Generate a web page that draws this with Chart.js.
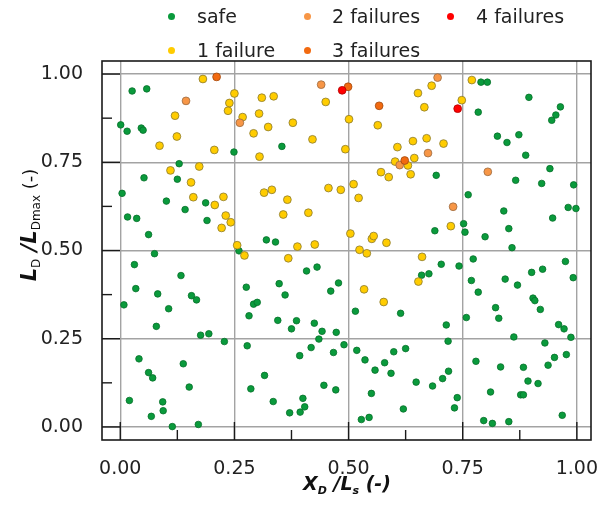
<!DOCTYPE html>
<html>
<head>
<meta charset="utf-8">
<script src="https://cdn.jsdelivr.net/npm/chart.js@4/dist/chart.umd.min.js"></script>
<style>
  body { margin: 0; background: #fff; }
  #wrap { position: relative; width: 599px; height: 510px; }
  #legend { position: absolute; left: 0; top: 0; width: 599px; height: 60px; font: 19px "DejaVu Sans", sans-serif; color: #222; }
  .dot { position: absolute; width: 7px; height: 7px; border-radius: 50%; }
  .lbl { position: absolute; line-height: 22px; white-space: nowrap; }
</style>
</head>
<body>
<div id="wrap">
  <canvas id="myChart" width="599" height="510"></canvas>
  <div id="legend"></div>
</div>
<script>
var seriesNames = ["safe", "1 failure", "2 failures", "3 failures", "4 failures"];
var seriesColors = ["#0a9a3c", "#ffcc00", "#f79646", "#f26a10", "#ff0000"];
var seriesBorders = ["#06702a", "#8a7a30", "#9a6a40", "#a04a10", "#b00000"];

var tickValues = [0, 0.25, 0.5, 0.75, 1];

// XD/Ls , LD/LDmax
var safePts = [
  [0.026,0.952],[0.058,0.958],[0.001,0.856],[0.015,0.838],[0.046,0.847],[0.050,0.841],[0.249,0.779],[0.129,0.746],[0.052,0.706],[0.125,0.702],
  [0.354,0.795],
  [0.790,0.977],[0.804,0.977],[0.784,0.892],[0.895,0.934],[0.964,0.907],[0.954,0.884],[0.945,0.869],[0.826,0.824],[0.847,0.806],[0.873,0.828],
  [0.888,0.770],[0.692,0.713],[0.941,0.732],[0.866,0.699],[0.923,0.690],[0.993,0.686],
  [0.004,0.662],[0.101,0.640],[0.187,0.635],[0.142,0.616],[0.016,0.595],[0.036,0.591],[0.190,0.585],[0.062,0.545],[0.260,0.499],[0.075,0.491],
  [0.031,0.460],[0.133,0.429],[0.034,0.392],[0.082,0.377],[0.156,0.372],[0.167,0.360],[0.008,0.346],[0.276,0.396],[0.292,0.348],[0.300,0.353],[0.320,0.530],
  [0.340,0.524],[0.660,0.430],[0.676,0.434],[0.408,0.442],[0.431,0.453],[0.348,0.406],[0.478,0.408],[0.461,0.385],[0.361,0.374],
  [0.762,0.658],[0.840,0.612],[0.981,0.622],[0.998,0.619],[0.947,0.592],[0.752,0.576],[0.755,0.552],[0.689,0.556],[0.851,0.562],[0.799,0.539],
  [0.858,0.508],[0.703,0.461],[0.742,0.456],[0.773,0.476],[0.769,0.415],[0.784,0.382],[0.843,0.419],[0.870,0.402],[0.901,0.438],[0.925,0.447],
  [0.975,0.469],[0.992,0.423],[0.904,0.365],[0.908,0.358],
  [0.106,0.335],[0.282,0.315],[0.079,0.285],[0.176,0.260],[0.194,0.264],[0.228,0.242],[0.278,0.230],[0.041,0.193],[0.138,0.179],[0.062,0.154],
  [0.071,0.139],[0.151,0.113],[0.316,0.146],[0.286,0.108],[0.020,0.075],[0.093,0.071],[0.094,0.046],[0.068,0.030],[0.114,0.001],[0.171,0.007],
  [0.515,0.328],[0.614,0.322],[0.345,0.302],[0.386,0.301],[0.375,0.278],[0.425,0.294],[0.442,0.271],[0.473,0.268],[0.435,0.249],[0.418,0.225],
  [0.490,0.233],[0.393,0.202],[0.467,0.211],[0.518,0.217],[0.536,0.190],[0.599,0.213],[0.625,0.222],[0.579,0.182],[0.558,0.161],[0.593,0.152],
  [0.648,0.127],[0.446,0.118],[0.472,0.105],[0.550,0.095],[0.335,0.072],[0.400,0.081],[0.404,0.057],[0.371,0.040],[0.394,0.042],[0.620,0.051],
  [0.528,0.021],[0.545,0.027],
  [0.822,0.338],[0.920,0.333],[0.758,0.310],[0.829,0.308],[0.714,0.289],[0.960,0.290],[0.972,0.278],[0.862,0.255],[0.987,0.254],[0.718,0.243],
  [0.930,0.238],[0.977,0.205],[0.951,0.197],[0.779,0.186],[0.833,0.170],[0.883,0.169],[0.937,0.175],[0.719,0.158],[0.706,0.137],[0.684,0.116],
  [0.893,0.130],[0.915,0.123],[0.811,0.099],[0.877,0.091],[0.883,0.091],[0.738,0.083],[0.732,0.054],[0.968,0.033],[0.796,0.018],[0.815,0.010],
  [0.851,0.015]
];

var fail1Pts = [
  [0.181,0.986],[0.250,0.945],[0.310,0.933],[0.239,0.918],[0.236,0.896],[0.120,0.882],[0.268,0.878],[0.304,0.888],[0.324,0.850],[0.292,0.832],
  [0.124,0.823],[0.086,0.797],[0.206,0.785],[0.305,0.766],[0.173,0.738],[0.110,0.727],[0.155,0.693],
  [0.336,0.937],[0.450,0.921],[0.652,0.946],[0.666,0.906],[0.501,0.872],[0.378,0.862],[0.564,0.855],[0.421,0.815],[0.493,0.787],[0.641,0.810],
  [0.671,0.818],[0.607,0.793],[0.644,0.762],[0.602,0.752],[0.630,0.741],[0.571,0.722],[0.588,0.708],[0.636,0.716],[0.511,0.688],[0.456,0.677],
  [0.682,0.967],[0.770,0.983],[0.748,0.926],[0.708,0.803],
  [0.160,0.651],[0.226,0.652],[0.207,0.629],[0.231,0.599],[0.242,0.580],[0.222,0.564],[0.256,0.515],[0.272,0.486],
  [0.315,0.664],[0.332,0.672],[0.366,0.644],[0.483,0.672],[0.522,0.649],[0.357,0.602],[0.412,0.607],[0.388,0.511],[0.426,0.517],[0.504,0.548],
  [0.551,0.533],[0.555,0.541],[0.583,0.522],[0.524,0.502],[0.540,0.492],[0.368,0.478],[0.661,0.482],[0.653,0.412],[0.534,0.390],[0.577,0.354],
  [0.724,0.569]
];

var fail2Pts = [[0.144,0.924],[0.262,0.862],[0.440,0.970],[0.674,0.776],[0.612,0.742],[0.695,0.990],[0.805,0.723],[0.729,0.624]];
var fail3Pts = [[0.211,0.992],[0.499,0.964],[0.567,0.910],[0.623,0.755]];
var fail4Pts = [[0.486,0.954],[0.739,0.902]];

var allPts = [safePts, fail1Pts, fail2Pts, fail3Pts, fail4Pts];
var pointRadius = [3.3, 3.9, 3.9, 3.9, 3.9];

var FONT = '"DejaVu Sans", sans-serif';

function drawParts(ctx, parts) {
  var w = 0;
  parts.forEach(function(p) { ctx.font = p.font; w += ctx.measureText(p.t).width; });
  var x = -w / 2;
  parts.forEach(function(p) {
    ctx.font = p.font;
    ctx.fillText(p.t, x, p.dy);
    x += ctx.measureText(p.t).width;
  });
}

var framePlugin = {
  id: 'frame',
  afterDatasetsDraw: function(chart) {
    var ctx = chart.ctx, a = chart.chartArea;
    var xs = chart.scales.x, ys = chart.scales.y;
    ctx.save();
    ctx.strokeStyle = '#1a1a1a';
    ctx.lineWidth = 1.6;
    ctx.strokeRect(a.left, a.top, a.right - a.left, a.bottom - a.top);
    ctx.lineWidth = 1.4;
    for (var v = 0; v <= 1.0001; v += 0.125) {
      var len = (Math.abs(v * 4 - Math.round(v * 4)) < 1e-6) ? 18 : 10;
      var px = xs.getPixelForValue(v);
      ctx.beginPath(); ctx.moveTo(px, a.bottom); ctx.lineTo(px, a.bottom - len); ctx.stroke();
      var py = ys.getPixelForValue(v);
      ctx.beginPath(); ctx.moveTo(a.left, py); ctx.lineTo(a.left + len, py); ctx.stroke();
    }
    ctx.restore();
  },
  afterDraw: function(chart) {
    var ctx = chart.ctx;
    ctx.save();
    ctx.fillStyle = '#111';
    ctx.textBaseline = 'alphabetic';
    var bi = 'italic bold 19px ' + FONT, bs = 'italic bold 11px ' + FONT;
    ctx.translate(347, 490);
    drawParts(ctx, [
      {t: 'X', font: bi, dy: 0}, {t: 'D', font: bs, dy: 4},
      {t: ' /', font: bi, dy: 0}, {t: 'L', font: bi, dy: 0}, {t: 's', font: bs, dy: 4},
      {t: ' (-)', font: bi, dy: 0}
    ]);
    ctx.restore();
    ctx.save();
    ctx.fillStyle = '#111';
    ctx.translate(36, 225);
    ctx.rotate(-Math.PI / 2);
    var yb = 'italic bold 21px ' + FONT, ys2 = '12px ' + FONT;
    drawParts(ctx, [
      {t: 'L', font: yb, dy: 0}, {t: 'D', font: ys2, dy: 4},
      {t: ' /', font: yb, dy: 0}, {t: 'L', font: yb, dy: 0}, {t: 'Dmax', font: ys2, dy: 4},
      {t: ' (-)', font: '18px ' + FONT, dy: 0}
    ]);
    ctx.restore();
  }
};

var datasets = seriesNames.map(function(name, i) {
  return {
    label: name,
    data: allPts[i].map(function(p) { return {x: p[0], y: p[1]}; }),
    backgroundColor: seriesColors[i],
    borderColor: seriesBorders[i],
    borderWidth: 0.8,
    pointRadius: pointRadius[i],
    order: 5 - i
  };
});

function fixTicks(scale) {
  scale.ticks = tickValues.map(function(v) { return {value: v}; });
}
function noPad(s) {
  s.paddingLeft = 0; s.paddingRight = 0; s.paddingTop = 0; s.paddingBottom = 0;
}

var ctx = document.getElementById("myChart").getContext('2d');
var myChart = new Chart(ctx, {
  type: 'scatter',
  data: { datasets: datasets },
  plugins: [framePlugin],
  options: {
    responsive: false,
    animation: false,
    devicePixelRatio: 1,
    events: [],
    layout: { padding: { top: 61, right: 8, left: 0, bottom: 0 } },
    plugins: { legend: { display: false }, tooltip: { enabled: false } },
    scales: {
      x: {
        type: 'linear', min: -0.04, max: 1.031,
        afterBuildTicks: fixTicks,
        afterFit: function(s) { s.height = 70; noPad(s); },
        border: { display: false },
        grid: { color: '#a3a3a3', lineWidth: 1.4, drawTicks: false },
        ticks: { padding: 18, color: '#222', font: { family: 'DejaVu Sans', size: 19 },
          callback: function(v) { return v.toFixed(2); } }
      },
      y: {
        type: 'linear', min: -0.037, max: 1.037,
        afterBuildTicks: fixTicks,
        afterFit: function(s) { s.width = 102; noPad(s); },
        border: { display: false },
        grid: { color: '#a3a3a3', lineWidth: 1.4, drawTicks: false },
        ticks: { padding: 19, color: '#222', font: { family: 'DejaVu Sans', size: 19 },
          callback: function(v) { return v.toFixed(2); } }
      }
    }
  }
});

// legend laid out in two rows like the original
var legendSlots = [[171, 16], [171, 50], [307, 16], [307, 50], [450, 16]];
var legendTextX = [197, 197, 332, 332, 476];
var leg = document.getElementById('legend');
seriesNames.forEach(function(name, i) {
  var d = document.createElement('div');
  d.className = 'dot';
  d.style.background = seriesColors[i];
  d.style.left = (legendSlots[i][0] - 3.5) + 'px';
  d.style.top = (legendSlots[i][1] - 3.5) + 'px';
  leg.appendChild(d);
  var s = document.createElement('div');
  s.className = 'lbl';
  s.textContent = name;
  s.style.left = legendTextX[i] + 'px';
  s.style.top = (legendSlots[i][1] - 11) + 'px';
  leg.appendChild(s);
});
</script>
</body>
</html>
